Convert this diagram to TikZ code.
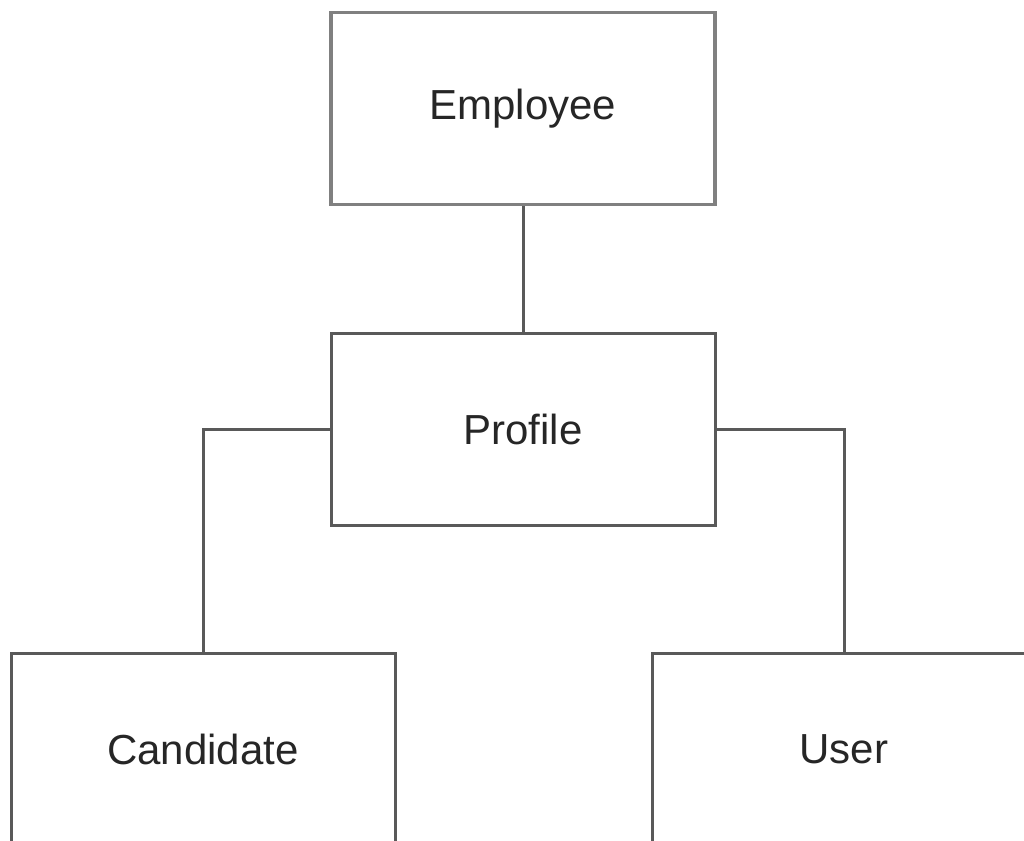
\documentclass[tikz,border=0pt]{standalone}
\usepackage{fontspec}
\setmainfont{Liberation Sans}
\usepackage{tikz}
\usetikzlibrary{positioning}

\tikzset{
  entity/.style={draw=black!65, line width=1.5pt, fill=white,
    minimum width=192pt, minimum height=96pt, inner sep=0pt,
    font=\fontsize{21}{25}\selectfont, text=black!85},
  link/.style={draw=black!65, line width=1.5pt}
}

\begin{document}
\begin{tikzpicture}[x=0.5pt, y=-0.5pt]

\useasboundingbox (0,0) rectangle (1024,841);

\begin{scope}
\clip (0,0) rectangle (1024,841);

% boxes
\node[entity, draw=black!50, line width=1.75pt] (employee) at (523,108.5) {Employee};
\node[entity] (profile) at (523,429) {Profile};
\node[entity] (candidate) at (203,749) {Candidate};
\node[entity] (user) at (844,749) {User};

% links
\draw[link] (employee) -- (profile);
\draw[link] (profile.west) -| (candidate.north);
\draw[link] (profile.east) -| (user.north);
\end{scope}

\end{tikzpicture}
\end{document}
